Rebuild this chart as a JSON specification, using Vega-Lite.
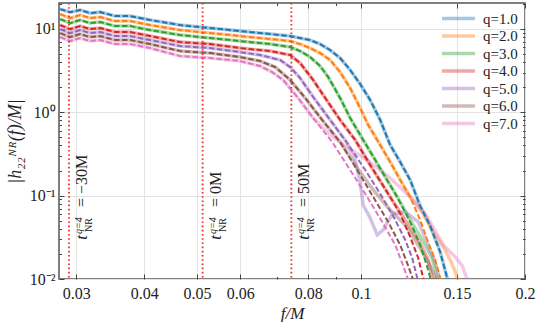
{
  "$schema": "https://vega.github.io/schema/vega-lite/v6.json",
  "autosize": {"type": "none"},
  "padding": {"left": 59, "top": 3, "right": 14, "bottom": 43},
  "width": 466,
  "height": 276,
  "background": "white",
  "config": {
    "view": {"stroke": "#555", "strokeWidth": 1.5},
    "font": "Liberation Serif, Times New Roman, serif",
    "axis": {"labelFont": "Liberation Serif, Times New Roman, serif", "titleFont": "Liberation Serif, Times New Roman, serif", "labelColor": "#222", "titleColor": "#222", "domain": false, "tickColor": "#444", "gridColor": "#e3e3e3", "titleFontWeight": "normal"}
  },
  "datasets": {
    "curves": [
      {"q":"q=1.0","f":0.02804,"m":17.32,"n":17.32},{"q":"q=1.0","f":0.02925,"m":15.94,"n":15.94},{"q":"q=1.0","f":0.03051,"m":16.85,"n":16.85},{"q":"q=1.0","f":0.03183,"m":15.5,"n":15.5},{"q":"q=1.0","f":0.0332,"m":15.94,"n":15.94},{"q":"q=1.0","f":0.03538,"m":14.28,"n":14.28},{"q":"q=1.0","f":0.03769,"m":14.28,"n":14.28},{"q":"q=1.0","f":0.04102,"m":12.79,"n":12.79},{"q":"q=1.0","f":0.04656,"m":11.14,"n":11.14},{"q":"q=1.0","f":0.05285,"m":10.25,"n":10.25},{"q":"q=1.0","f":0.06,"m":9.44,"n":9.44},{"q":"q=1.0","f":0.06811,"m":8.69,"n":8.69},{"q":"q=1.0","f":0.07412,"m":8.22,"n":8.22},{"q":"q=1.0","f":0.08066,"m":7.36,"n":7.36},{"q":"q=1.0","f":0.08414,"m":6.59,"n":6.59},{"q":"q=1.0","f":0.08778,"m":5.58,"n":5.58},{"q":"q=1.0","f":0.09156,"m":4.48,"n":4.48},{"q":"q=1.0","f":0.09552,"m":3.22,"n":3.22},{"q":"q=1.0","f":0.09964,"m":2.185,"n":2.185},{"q":"q=1.0","f":0.10395,"m":1.405,"n":1.405},{"q":"q=1.0","f":0.10844,"m":0.809,"n":0.809},{"q":"q=1.0","f":0.11312,"m":0.4055,"n":0.4055},{"q":"q=1.0","f":0.118,"m":0.2536,"n":0.2536},{"q":"q=1.0","f":0.1231,"m":0.1543,"n":0.1543},{"q":"q=1.0","f":0.12841,"m":0.0752,"n":0.0752},{"q":"q=1.0","f":0.13396,"m":0.0433,"n":0.0433},{"q":"q=1.0","f":0.13975,"m":0.0211,"n":0.0211},{"q":"q=1.0","f":0.14457,"m":0.00923,"n":0.00923},
      {"q":"q=2.0","f":0.02804,"m":15.09,"n":15.09},{"q":"q=2.0","f":0.02925,"m":13.51,"n":13.51},{"q":"q=2.0","f":0.03051,"m":14.68,"n":14.68},{"q":"q=2.0","f":0.03183,"m":13.51,"n":13.51},{"q":"q=2.0","f":0.0332,"m":13.89,"n":13.89},{"q":"q=2.0","f":0.03538,"m":12.44,"n":12.44},{"q":"q=2.0","f":0.03769,"m":12.44,"n":12.44},{"q":"q=2.0","f":0.04102,"m":11.14,"n":11.14},{"q":"q=2.0","f":0.04656,"m":9.7,"n":9.7},{"q":"q=2.0","f":0.05285,"m":8.93,"n":8.93},{"q":"q=2.0","f":0.06,"m":8.22,"n":8.22},{"q":"q=2.0","f":0.06811,"m":7.57,"n":7.57},{"q":"q=2.0","f":0.07412,"m":7.16,"n":7.16},{"q":"q=2.0","f":0.07732,"m":6.59,"n":6.59},{"q":"q=2.0","f":0.08066,"m":5.9,"n":5.9},{"q":"q=2.0","f":0.08414,"m":5.14,"n":5.14},{"q":"q=2.0","f":0.08778,"m":4.24,"n":4.24},{"q":"q=2.0","f":0.09156,"m":3.04,"n":3.04},{"q":"q=2.0","f":0.09552,"m":1.956,"n":1.956},{"q":"q=2.0","f":0.09964,"m":1.126,"n":1.126},{"q":"q=2.0","f":0.10309,"m":0.704,"n":0.704},{"q":"q=2.0","f":0.10709,"m":0.4655,"n":0.4655},{"q":"q=2.0","f":0.11312,"m":0.2536,"n":0.2536},{"q":"q=2.0","f":0.118,"m":0.1543,"n":0.1543},{"q":"q=2.0","f":0.1231,"m":0.0965,"n":0.0965},{"q":"q=2.0","f":0.12841,"m":0.0511,"n":null},{"q":"q=2.0","f":0.1323,"m":0.0294,"n":null},{"q":"q=2.0","f":0.13686,"m":0.01694,"n":null},{"q":"q=2.0","f":0.14035,"m":0.00923,"n":null},{"q":"q=2.0","f":0.13008,"m":null,"n":0.061},{"q":"q=2.0","f":0.1357,"m":null,"n":0.0367},{"q":"q=2.0","f":0.14156,"m":null,"n":0.02426},{"q":"q=2.0","f":0.14578,"m":null,"n":0.01694},{"q":"q=2.0","f":0.14893,"m":null,"n":0.01217},{"q":"q=2.0","f":0.15082,"m":null,"n":0.00923},
      {"q":"q=3.0","f":0.02804,"m":13.14,"n":13.14},{"q":"q=3.0","f":0.02925,"m":11.77,"n":11.77},{"q":"q=3.0","f":0.03051,"m":12.79,"n":12.79},{"q":"q=3.0","f":0.03183,"m":11.77,"n":11.77},{"q":"q=3.0","f":0.0332,"m":12.1,"n":12.1},{"q":"q=3.0","f":0.03538,"m":10.83,"n":10.83},{"q":"q=3.0","f":0.03769,"m":10.83,"n":10.83},{"q":"q=3.0","f":0.04102,"m":9.7,"n":9.7},{"q":"q=3.0","f":0.04656,"m":8.45,"n":8.45},{"q":"q=3.0","f":0.05285,"m":7.78,"n":7.78},{"q":"q=3.0","f":0.06,"m":7.16,"n":7.16},{"q":"q=3.0","f":0.06811,"m":6.59,"n":6.59},{"q":"q=3.0","f":0.07412,"m":6.07,"n":6.07},{"q":"q=3.0","f":0.07732,"m":5.43,"n":5.43},{"q":"q=3.0","f":0.08066,"m":4.6,"n":4.6},{"q":"q=3.0","f":0.08414,"m":3.59,"n":3.59},{"q":"q=3.0","f":0.08705,"m":2.65,"n":2.65},{"q":"q=3.0","f":0.09156,"m":1.484,"n":1.484},{"q":"q=3.0","f":0.09552,"m":0.854,"n":0.854},{"q":"q=3.0","f":0.10093,"m":0.4655,"n":0.4655},{"q":"q=3.0","f":0.1062,"m":0.268,"n":0.268},{"q":"q=3.0","f":0.11078,"m":0.1676,"n":0.1676},{"q":"q=3.0","f":0.11654,"m":0.0965,"n":0.0965},{"q":"q=3.0","f":0.1231,"m":0.0484,"n":0.0511},{"q":"q=3.0","f":0.12841,"m":0.02563,"n":null},{"q":"q=3.0","f":0.13285,"m":0.01285,"n":null},{"q":"q=3.0","f":0.13454,"m":0.00923,"n":null},{"q":"q=3.0","f":0.12952,"m":null,"n":0.0294},{"q":"q=3.0","f":0.13512,"m":null,"n":0.0179},{"q":"q=3.0","f":0.13859,"m":null,"n":0.00923},
      {"q":"q=4.0","f":0.02804,"m":11.14,"n":11.14},{"q":"q=4.0","f":0.02925,"m":9.97,"n":9.97},{"q":"q=4.0","f":0.03051,"m":10.83,"n":10.83},{"q":"q=4.0","f":0.03183,"m":9.97,"n":9.97},{"q":"q=4.0","f":0.0332,"m":10.25,"n":10.25},{"q":"q=4.0","f":0.03538,"m":9.18,"n":9.18},{"q":"q=4.0","f":0.03769,"m":9.18,"n":9.18},{"q":"q=4.0","f":0.04102,"m":8.22,"n":8.22},{"q":"q=4.0","f":0.04656,"m":6.96,"n":6.96},{"q":"q=4.0","f":0.05285,"m":6.59,"n":6.59},{"q":"q=4.0","f":0.06,"m":5.9,"n":5.9},{"q":"q=4.0","f":0.06811,"m":5.43,"n":5.43},{"q":"q=4.0","f":0.07412,"m":4.87,"n":4.87},{"q":"q=4.0","f":0.07732,"m":3.9,"n":3.9},{"q":"q=4.0","f":0.0817,"m":2.44,"n":2.44},{"q":"q=4.0","f":0.08596,"m":1.484,"n":1.484},{"q":"q=4.0","f":0.09156,"m":0.809,"n":0.809},{"q":"q=4.0","f":0.09758,"m":0.4655,"n":0.4655},{"q":"q=4.0","f":0.10395,"m":0.2334,"n":0.2334},{"q":"q=4.0","f":0.10844,"m":0.15,"n":0.15},{"q":"q=4.0","f":0.11312,"m":0.0965,"n":0.0965},{"q":"q=4.0","f":0.118,"m":0.061,"n":null},{"q":"q=4.0","f":0.1231,"m":0.032,"n":null},{"q":"q=4.0","f":0.12735,"m":0.0179,"n":0.0294},{"q":"q=4.0","f":0.13008,"m":0.0103,"n":null},{"q":"q=4.0","f":0.13064,"m":0.009,"n":null},{"q":"q=4.0","f":0.12055,"m":null,"n":0.0511},{"q":"q=4.0","f":0.13285,"m":null,"n":0.01694},{"q":"q=4.0","f":0.1357,"m":null,"n":0.00923},
      {"q":"q=5.0","f":0.02804,"m":9.97,"n":9.97},{"q":"q=5.0","f":0.02925,"m":8.93,"n":8.93},{"q":"q=5.0","f":0.03051,"m":9.7,"n":9.7},{"q":"q=5.0","f":0.03183,"m":8.93,"n":8.93},{"q":"q=5.0","f":0.0332,"m":9.18,"n":9.18},{"q":"q=5.0","f":0.03538,"m":8.22,"n":8.22},{"q":"q=5.0","f":0.03769,"m":8.22,"n":8.22},{"q":"q=5.0","f":0.04102,"m":7.36,"n":7.36},{"q":"q=5.0","f":0.04656,"m":6.24,"n":6.24},{"q":"q=5.0","f":0.05285,"m":5.9,"n":5.9},{"q":"q=5.0","f":0.06,"m":5.28,"n":5.28},{"q":"q=5.0","f":0.06529,"m":4.87,"n":4.87},{"q":"q=5.0","f":0.07105,"m":4.24,"n":4.24},{"q":"q=5.0","f":0.07412,"m":3.49,"n":3.49},{"q":"q=5.0","f":0.07732,"m":2.58,"n":2.58},{"q":"q=5.0","f":0.0817,"m":1.526,"n":1.526},{"q":"q=5.0","f":0.08669,"m":0.903,"n":0.903},{"q":"q=5.0","f":0.09433,"m":0.4284,"n":0.4284},{"q":"q=5.0","f":0.1018,"m":0.2033,"n":null},{"q":"q=5.0","f":0.10938,"m":0.0965,"n":null},{"q":"q=5.0","f":0.11556,"m":0.0511,"n":null},{"q":"q=5.0","f":0.12055,"m":0.0294,"n":0.0638},{"q":"q=5.0","f":0.12416,"m":0.0179,"n":null},{"q":"q=5.0","f":0.12682,"m":0.0103,"n":null},{"q":"q=5.0","f":0.12735,"m":0.009,"n":0.0484},{"q":"q=5.0","f":0.09758,"m":null,"n":0.268},{"q":"q=5.0","f":0.09964,"m":null,"n":0.142},{"q":"q=5.0","f":0.10093,"m":null,"n":0.0773},{"q":"q=5.0","f":0.10395,"m":null,"n":0.054},{"q":"q=5.0","f":0.10709,"m":null,"n":0.0338},{"q":"q=5.0","f":0.10984,"m":null,"n":0.0388},{"q":"q=5.0","f":0.1141,"m":null,"n":0.0603},{"q":"q=5.0","f":0.13285,"m":null,"n":0.02563},{"q":"q=5.0","f":0.13744,"m":null,"n":0.01436},{"q":"q=5.0","f":0.13975,"m":null,"n":0.00923},
      {"q":"q=6.0","f":0.02804,"m":8.93,"n":8.93},{"q":"q=6.0","f":0.02925,"m":8.0,"n":8.0},{"q":"q=6.0","f":0.03051,"m":8.69,"n":8.69},{"q":"q=6.0","f":0.03183,"m":8.0,"n":8.0},{"q":"q=6.0","f":0.0332,"m":8.22,"n":8.22},{"q":"q=6.0","f":0.03538,"m":7.36,"n":7.36},{"q":"q=6.0","f":0.03769,"m":7.36,"n":7.36},{"q":"q=6.0","f":0.04102,"m":6.59,"n":6.59},{"q":"q=6.0","f":0.04656,"m":5.43,"n":5.43},{"q":"q=6.0","f":0.05285,"m":5.14,"n":5.14},{"q":"q=6.0","f":0.06,"m":4.6,"n":4.6},{"q":"q=6.0","f":0.06529,"m":4.12,"n":4.12},{"q":"q=6.0","f":0.06958,"m":3.49,"n":3.49},{"q":"q=6.0","f":0.07412,"m":2.44,"n":2.44},{"q":"q=6.0","f":0.07899,"m":1.484,"n":1.484},{"q":"q=6.0","f":0.08487,"m":0.809,"n":0.809},{"q":"q=6.0","f":0.09156,"m":0.4405,"n":0.4405},{"q":"q=6.0","f":0.0984,"m":0.2033,"n":0.2149},{"q":"q=6.0","f":0.1053,"m":0.0965,"n":0.117},{"q":"q=6.0","f":0.11218,"m":0.0484,"n":null},{"q":"q=6.0","f":0.11312,"m":null,"n":0.0674},{"q":"q=6.0","f":0.118,"m":0.02563,"n":null},{"q":"q=6.0","f":0.12055,"m":null,"n":0.0445},{"q":"q=6.0","f":0.12208,"m":0.01436,"n":null},{"q":"q=6.0","f":0.12469,"m":0.00976,"n":null},{"q":"q=6.0","f":0.12735,"m":null,"n":0.02563},{"q":"q=6.0","f":0.13396,"m":null,"n":0.01436},{"q":"q=6.0","f":0.13801,"m":null,"n":0.00923},
      {"q":"q=7.0","f":0.02804,"m":8.0,"n":8.0},{"q":"q=7.0","f":0.02925,"m":7.16,"n":7.16},{"q":"q=7.0","f":0.03051,"m":7.78,"n":7.78},{"q":"q=7.0","f":0.03183,"m":7.16,"n":7.16},{"q":"q=7.0","f":0.0332,"m":7.36,"n":7.36},{"q":"q=7.0","f":0.03538,"m":6.59,"n":6.59},{"q":"q=7.0","f":0.03769,"m":6.59,"n":6.59},{"q":"q=7.0","f":0.04102,"m":5.9,"n":5.9},{"q":"q=7.0","f":0.04656,"m":4.73,"n":4.73},{"q":"q=7.0","f":0.05285,"m":4.48,"n":4.48},{"q":"q=7.0","f":0.06,"m":4.12,"n":4.12},{"q":"q=7.0","f":0.06529,"m":3.59,"n":3.59},{"q":"q=7.0","f":0.0687,"m":3.04,"n":3.04},{"q":"q=7.0","f":0.07197,"m":2.44,"n":2.44},{"q":"q=7.0","f":0.07668,"m":1.484,"n":1.484},{"q":"q=7.0","f":0.0817,"m":0.854,"n":0.854},{"q":"q=7.0","f":0.08778,"m":null,"n":0.534},{"q":"q=7.0","f":0.08854,"m":0.4405,"n":null},{"q":"q=7.0","f":0.09473,"m":null,"n":0.373},{"q":"q=7.0","f":0.09552,"m":0.2033,"n":null},{"q":"q=7.0","f":0.10266,"m":0.0965,"n":0.268},{"q":"q=7.0","f":0.10938,"m":0.0484,"n":null},{"q":"q=7.0","f":0.11312,"m":null,"n":0.1631},{"q":"q=7.0","f":0.11556,"m":0.02563,"n":null},{"q":"q=7.0","f":0.11953,"m":0.01436,"n":null},{"q":"q=7.0","f":0.12208,"m":0.00976,"n":null},{"q":"q=7.0","f":0.1231,"m":null,"n":0.0965},{"q":"q=7.0","f":0.13118,"m":null,"n":0.061},{"q":"q=7.0","f":0.14156,"m":null,"n":0.02563},{"q":"q=7.0","f":0.14893,"m":null,"n":0.0184},{"q":"q=7.0","f":0.15339,"m":null,"n":0.01436},{"q":"q=7.0","f":0.15733,"m":null,"n":0.00923}
    ],
    "marks": [
      {"f": 0.0291, "ly": 0.0732, "lab": "= −30M"},
      {"f": 0.0512, "ly": 0.0732, "lab": "= 0M"},
      {"f": 0.0745, "ly": 0.0732, "lab": "= 50M"}
    ]
  },
  "resolve": {"axis": {"x": "independent", "y": "independent"}},
  "layer": [
    {
      "data": {"name": "curves"},
      "transform": [{"filter": "datum.n != null"}],
      "mark": {"type": "line", "clip": true, "strokeWidth": 3.5, "opacity": 0.4},
      "encoding": {
        "x": {"field": "f", "type": "quantitative", "scale": {"type": "log", "domain": [0.0279, 0.2], "nice": false},
          "axis": {"orient": "bottom", "values": [0.03, 0.04, 0.05, 0.06, 0.08, 0.1, 0.15, 0.2], "labelExpr": "format(datum.value, '~g')", "labelFontSize": 16, "tickSize": -5, "labelPadding": 11, "grid": true, "title": "f/M", "titleFontSize": 17, "titleFontStyle": "italic", "titlePadding": 4, "labelFlush": false, "labelOverlap": false}},
        "y": {"field": "n", "type": "quantitative", "scale": {"type": "log", "domain": [0.01, 20.5], "nice": false},
          "axis": {"orient": "left", "values": [0.01, 0.1, 1, 10], "labelExpr": "datum.value == 10 ? '10¹' : datum.value == 1 ? '10⁰' : datum.value == 0.1 ? '10⁻¹' : '10⁻²'", "labelFontSize": 16, "tickSize": -5, "labelPadding": 9, "grid": true, "title": "|h₂₂ᴺᴿ(f)/M|", "titleFontSize": 18, "titleFontStyle": "italic", "titlePadding": 5, "labelFlush": false}},
        "color": {"field": "q", "type": "nominal",
          "scale": {"range": ["#1f77b4", "#ff7f0e", "#2ca02c", "#d62728", "#9467bd", "#8c564b", "#e377c2"]},
          "legend": {"orient": "none", "legendX": 392, "legendY": 8, "title": null, "symbolType": "M-3.3,0H3.3", "symbolSize": 100, "symbolStrokeWidth": 3.5, "symbolOpacity": 0.4, "labelFont": "Liberation Serif, Times New Roman, serif", "labelFontSize": 15, "labelColor": "#222", "labelOffset": 17, "rowPadding": 1.5, "padding": 0}}
      }
    },
    {
      "data": {"name": "curves"},
      "transform": [{"filter": "datum.m != null"}],
      "mark": {"type": "line", "clip": true, "strokeWidth": 2, "strokeDash": [5.5, 2.5]},
      "encoding": {
        "x": {"field": "f", "type": "quantitative", "axis": {"orient": "top", "values": [0.03, 0.04, 0.05, 0.06, 0.08, 0.1, 0.15, 0.2], "labels": false, "tickSize": -5, "grid": false, "title": null}},
        "y": {"field": "m", "type": "quantitative", "axis": {"orient": "right", "values": [0.01, 0.1, 1, 10], "labels": false, "tickSize": -5, "grid": false, "title": null}},
        "color": {"field": "q", "type": "nominal", "legend": null}
      }
    },
    {
      "data": {"name": "marks"},
      "mark": {"type": "rule", "color": "#e8302a", "strokeWidth": 1.8, "strokeDash": [1.6, 2.6]},
      "encoding": {
        "x": {"field": "f", "type": "quantitative", "axis": {"orient": "bottom", "values": [0.07, 0.09], "labels": false, "tickSize": -2.5, "grid": false, "title": null}}
      }
    },
    {
      "data": {"name": "marks"},
      "mark": {"type": "text", "align": "left", "baseline": "alphabetic", "angle": 270, "dy": 18, "fontSize": 16, "font": "Liberation Serif, Times New Roman, serif", "color": "#222"},
      "encoding": {
        "x": {"field": "f", "type": "quantitative", "axis": {"orient": "top", "values": [0.07, 0.09], "labels": false, "tickSize": -2.5, "grid": false, "title": null}},
        "y": {"field": "ly", "type": "quantitative", "axis": {"orient": "left", "values": [0.02,0.03,0.04,0.05,0.06,0.07,0.08,0.09,0.2,0.3,0.4,0.5,0.6,0.7,0.8,0.9,2,3,4,5,6,7,8,9,20], "labels": false, "tickSize": -2.5, "grid": false, "title": null}},
        "text": {"field": "lab"}
      }
    },
    {
      "data": {"name": "marks"},
      "mark": {"type": "text", "align": "right", "baseline": "alphabetic", "angle": 270, "dx": -28, "dy": 18, "fontSize": 17, "fontStyle": "italic", "font": "Liberation Serif, Times New Roman, serif", "color": "#222", "text": "t"},
      "encoding": {
        "x": {"field": "f", "type": "quantitative", "axis": null},
        "y": {"field": "ly", "type": "quantitative", "axis": {"orient": "right", "values": [0.02,0.03,0.04,0.05,0.06,0.07,0.08,0.09,0.2,0.3,0.4,0.5,0.6,0.7,0.8,0.9,2,3,4,5,6,7,8,9,20], "labels": false, "tickSize": -2.5, "grid": false, "title": null}}
      }
    },
    {
      "data": {"name": "marks"},
      "mark": {"type": "text", "align": "left", "baseline": "alphabetic", "angle": 270, "dx": -27, "dy": 13, "fontSize": 10, "fontStyle": "italic", "font": "Liberation Serif, Times New Roman, serif", "color": "#222", "text": "q=4"},
      "encoding": {
        "x": {"field": "f", "type": "quantitative", "axis": null},
        "y": {"field": "ly", "type": "quantitative", "axis": null}
      }
    },
    {
      "data": {"name": "marks"},
      "mark": {"type": "text", "align": "left", "baseline": "alphabetic", "angle": 270, "dx": -25, "dy": 23, "fontSize": 10, "font": "Liberation Serif, Times New Roman, serif", "color": "#222", "text": "NR"},
      "encoding": {
        "x": {"field": "f", "type": "quantitative", "axis": null},
        "y": {"field": "ly", "type": "quantitative", "axis": null}
      }
    }
  ]
}
